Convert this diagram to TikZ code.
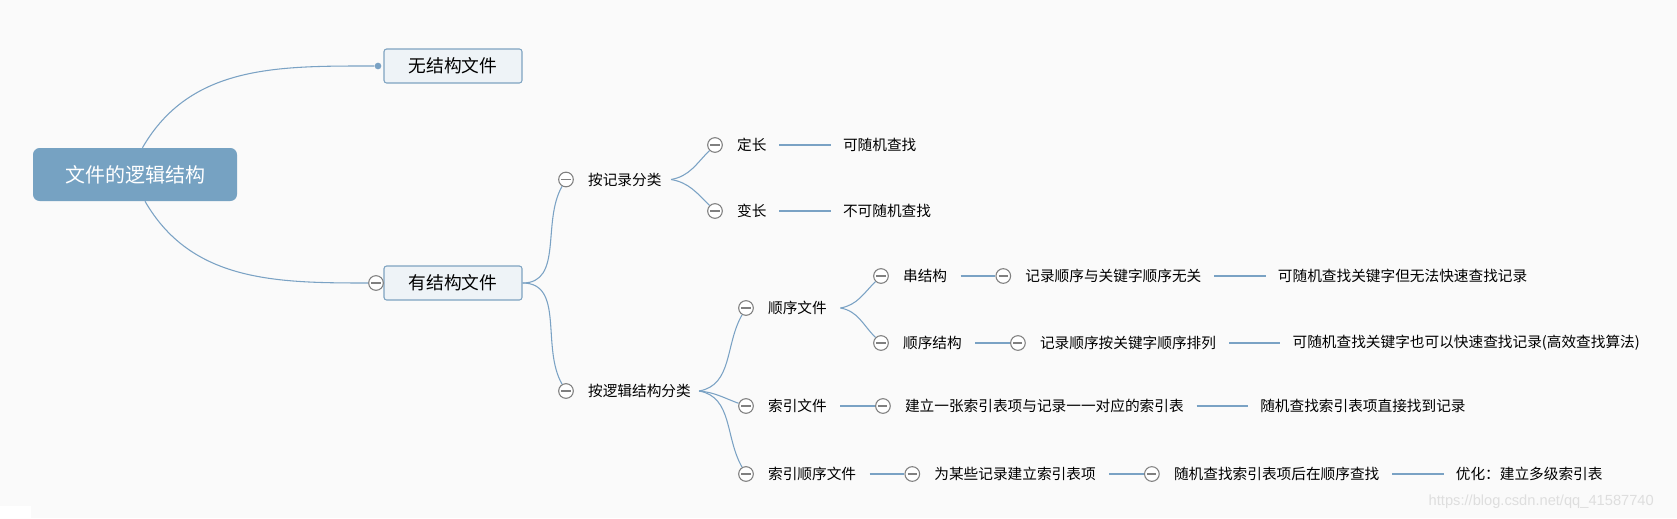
\documentclass[tikz,border=0pt]{standalone}
\usepackage{fontspec}
\newfontfamily\cjk{Noto Sans CJK SC}
\newfontfamily\wmfont{Liberation Sans}
\usepackage{tikz}
\usetikzlibrary{positioning}
\usepackage{xcolor}
\definecolor{linkblue}{RGB}{122,162,196}
\definecolor{rootblue}{RGB}{118,162,194}
\definecolor{boxfill}{RGB}{238,243,247}
\definecolor{boxline}{RGB}{126,163,193}
\definecolor{foldgray}{RGB}{128,128,128}
\definecolor{paper}{RGB}{250,250,250}
\definecolor{wmgray}{RGB}{222,222,222}

\begin{document}
\begin{tikzpicture}[x=0.75pt,y=-0.75pt,font=\cjk,
    rootbox/.style={rectangle,rounded corners=5pt,fill=rootblue,text=white,
        minimum width=153pt,minimum height=39.75pt,
        font=\cjk\fontsize{15}{18}\selectfont},
    topic/.style={rectangle,rounded corners=2pt,draw=boxline,fill=boxfill,
        line width=0.8pt,minimum width=103.5pt,minimum height=25.5pt,
        font=\cjk\fontsize{13.3}{16}\selectfont},
    leaf/.style={inner xsep=0pt,inner ysep=2pt,
        font=\cjk\fontsize{11}{13}\selectfont},
    fold/.style={circle,draw=foldgray,fill=white,line width=0.8pt,
        minimum size=11pt,inner sep=0pt,
        path picture={\draw[foldgray,line width=0.8pt]
            ([xshift=-3.4pt]path picture bounding box.center) --
            ([xshift=3.4pt]path picture bounding box.center);}},
    knob/.style={circle,fill=linkblue,minimum size=5pt,inner sep=0pt},
    link/.style={draw=linkblue,line width=0.8pt}]
    \fill[paper] (0,0) rectangle (1677,518);
    \useasboundingbox (0,0) rectangle (1677,518);
    \fill[white] (0,506) rectangle (31,518);

    % Add the topics
    \node[rootbox] (root) at (135,174.5) {文件的逻辑结构};
    \node[topic] (nostruct) at (453,66) {无结构文件};
    \node[topic] (hasstruct) at (453,283) {有结构文件};
    \node[knob] (k0) at (378,66) {};
    \node[fold] (f0) at (376,283) {};

    % by record
    \node[fold] (fbyrec) at (566,179.5) {};
    \node[leaf,right=10.5pt of fbyrec] (byrec) {按记录分类};
    \node[fold] (ffixed) at (715,145) {};
    \node[leaf,right=10.5pt of ffixed] (fixed) {定长};
    \node[leaf,right=57pt of fixed] (fixedres) {可随机查找};
    \node[fold] (fvar) at (715,211) {};
    \node[leaf,right=10.5pt of fvar] (var) {变长};
    \node[leaf,right=57pt of var] (varres) {不可随机查找};

    % by logic
    \node[fold] (fbylogic) at (566,391) {};
    \node[leaf,right=10.5pt of fbylogic] (bylogic) {按逻辑结构分类};
    \node[fold] (fseq) at (746,308) {};
    \node[leaf,right=10.5pt of fseq] (seq) {顺序文件};
    \node[fold] (fchain) at (881,276) {};
    \node[leaf,right=10.5pt of fchain] (chain) {串结构};
    \node[fold,right=36pt of chain] (fchaina) {};
    \node[leaf,right=10.5pt of fchaina] (chaina) {记录顺序与关键字顺序无关};
    \node[leaf,right=57pt of chaina] (chainb) {可随机查找关键字但无法快速查找记录};
    \node[fold] (fsorted) at (881,343) {};
    \node[leaf,right=10.5pt of fsorted] (sorted) {顺序结构};
    \node[fold,right=36pt of sorted] (fsorteda) {};
    \node[leaf,right=10.5pt of fsorteda] (sorteda) {记录顺序按关键字顺序排列};
    \node[leaf,right=57pt of sorteda] (sortedb) {可随机查找关键字也可以快速查找记录(高效查找算法)};
    \node[fold] (fidx) at (746,406) {};
    \node[leaf,right=10.5pt of fidx] (idx) {索引文件};
    \node[fold,right=36pt of idx] (fidxa) {};
    \node[leaf,right=10.5pt of fidxa] (idxa) {建立一张索引表项与记录一一对应的索引表};
    \node[leaf,right=57pt of idxa] (idxb) {随机查找索引表项直接找到记录};
    \node[fold] (fiseq) at (746,474) {};
    \node[leaf,right=10.5pt of fiseq] (iseq) {索引顺序文件};
    \node[fold,right=36pt of iseq] (fiseqa) {};
    \node[leaf,right=10.5pt of fiseqa] (iseqa) {为某些记录建立索引表项};
    \node[fold,right=36pt of iseqa] (fiseqb) {};
    \node[leaf,right=10.5pt of fiseqb] (iseqb) {随机查找索引表项后在顺序查找};
    \node[leaf,right=57pt of iseqb] (iseqc) {优化：建立多级索引表};

    \node[font=\wmfont\fontsize{11}{13}\selectfont,text=wmgray,anchor=west]
        (wm) at (1424,502) {https://blog.csdn.net/qq\_41587740};

    % branches
    \draw[link] ([xshift=5.6pt]root.north) to[out=60,in=180] (k0);
    \draw[link] ([xshift=7.5pt]root.south) to[out=-60,in=180] (f0);
    \draw[link] (hasstruct.east) to[out=0,in=240] (fbyrec);
    \draw[link] (hasstruct.east) to[out=0,in=120] (fbylogic);
    \draw[link] ([xshift=7pt]byrec.east) to[out=10,in=225] (ffixed);
    \draw[link] ([xshift=7pt]byrec.east) to[out=-10,in=135] (fvar);
    \draw[link] ([xshift=6pt]bylogic.east) to[out=10,in=240] (fseq);
    \draw[link] ([xshift=6pt]bylogic.east) to[out=-5,in=160] (fidx);
    \draw[link] ([xshift=6pt]bylogic.east) to[out=-10,in=120] (fiseq);
    \draw[link] ([xshift=10pt]seq.east) to[out=10,in=225] (fchain);
    \draw[link] ([xshift=10pt]seq.east) to[out=-10,in=135] (fsorted);

    % plain links
    \draw[link,shorten <=9.5pt,shorten >=9pt]
        (fixed) edge (fixedres)
        (var) edge (varres)
        (chaina) edge (chainb)
        (sorteda) edge (sortedb)
        (idxa) edge (idxb)
        (iseqb) edge (iseqc);
    \draw[link,shorten <=10pt]
        (chain) edge (fchaina)
        (sorted) edge (fsorteda)
        (idx) edge (fidxa)
        (iseq) edge (fiseqa)
        (iseqa) edge (fiseqb);
\end{tikzpicture}
\end{document}
